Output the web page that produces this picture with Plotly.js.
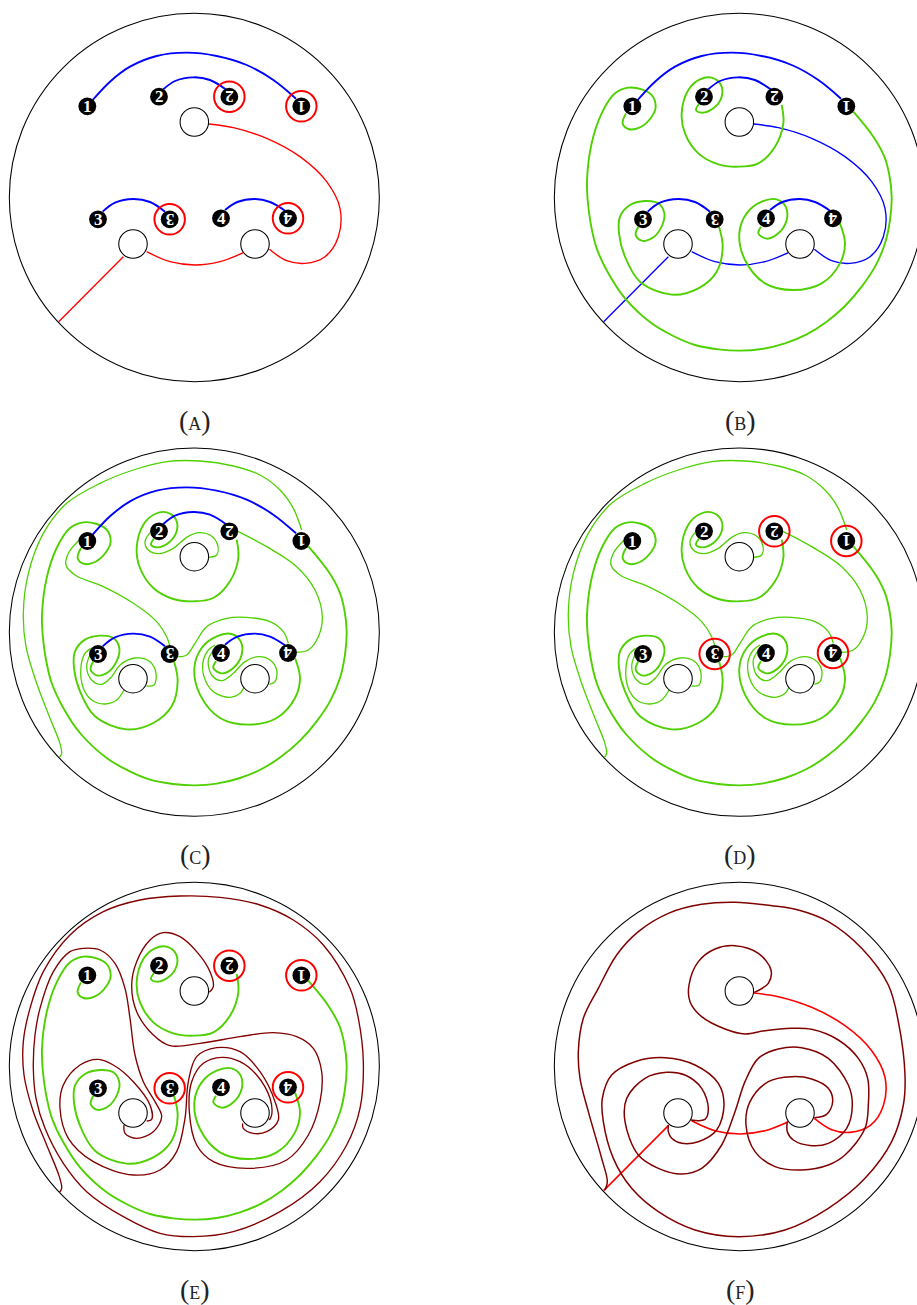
<!DOCTYPE html>
<html><head><meta charset="utf-8">
<script src="https://cdn.plot.ly/plotly-3.0.1.min.js"></script>
<style>html,body{margin:0;padding:0;background:#fff}#p{width:917px;height:1305px}</style></head>
<body><div id="p"></div>
<script>
// Curves, in crop units (1 unit = 1/3 px) relative to each panel's origin.
const blue1=[[278,300],[330,245],[390,200],[470,168],[560,158],[650,168],[740,195],[820,240],[888,296]];
const blue2=[[490,268],[525,243],[580,232],[630,240],[680,270]];
const blue3=[[308,635],[345,608],[400,597],[450,606],[495,635]];
const blue4=[[675,630],[712,606],[765,597],[810,606],[855,632]];
const arcOuter=[[625,372],[700,383],[800,415],[900,470],[980,545],[1020,625],[1015,710],[975,770],[915,790],[860,782],[808,748]];
const arcMiddle=[[440,755],[510,785],[585,795],[660,785],[730,758]];
const arcTail=[[370,770],[176,965]];
const greenMain=[[243,340],[233,370],[250,387],[285,382],[320,350],[332,320],[320,285],[290,268],[250,263],[210,280],[170,340],[140,430],[126,540],[128,600],[137,670],[155,745],[190,820],[240,895],[320,970],[385,1008],[450,1035],[520,1048],[585,1052],[650,1047],[720,1030],[785,1003],[845,965],[900,918],[950,860],[990,800],[1020,730],[1035,660],[1040,590],[1033,525],[1018,470],[985,410],[925,335]];
const green2=[[462,312],[453,330],[470,338],[505,325],[530,290],[528,255],[500,233],[465,238],[430,270],[410,340],[420,400],[460,460],[520,493],[580,500],[640,490],[690,440],[715,370],[710,315]];
const green3=[[280,680],[272,705],[290,722],[325,712],[352,675],[358,640],[340,610],[300,603],[255,615],[225,650],[222,700],[240,770],[285,845],[380,884],[460,865],[515,815],[533,740],[522,680]];
const green4=[[648,680],[640,700],[665,716],[700,700],[725,660],[722,620],[695,598],[650,605],[605,640],[583,700],[600,780],[660,850],[745,870],[830,850],[885,790],[900,730],[885,670]];
const thinOuter=[[905,270],[880,205],[840,150],[780,105],[700,78],[600,63],[500,65],[400,90],[300,130],[200,190],[130,280],[85,400],[70,520],[78,620],[110,730],[150,835],[178,905],[185,940],[178,952]];
const thinOne=[[240,298],[205,340],[198,375],[225,405],[310,440],[400,490],[470,545],[500,590],[510,620]];
const thinTwoR=[[715,275],[800,320],[890,380],[945,450],[967,530],[955,590],[925,630],[885,637]];
const thinHump=[[535,650],[560,645],[585,610],[620,560],[680,535],[740,532],[810,545],[850,575],[865,610]];
const thinHole1=[[625,352],[650,345],[653,315],[630,285],[595,278],[560,292],[520,325],[475,341],[445,330],[435,305],[450,278]];
const thinHole3a=[[440,738],[462,735],[468,700],[450,665],[405,654],[360,675],[335,710],[305,733],[275,720],[260,680],[272,640]];
const thinHole3b=[[372,750],[350,780],[315,792],[275,780],[250,745],[243,680],[255,640],[272,625]];
const thinHole4a=[[808,733],[825,725],[830,690],[810,660],[775,650],[735,665],[700,700],[665,722],[635,705],[625,660],[645,625]];
const thinHole4b=[[735,735],[720,760],[690,772],[640,755],[612,710],[610,660],[625,630],[645,615]];
const darkE1=[[178,952],[185,940],[178,905],[140,810],[100,710],[72,600],[70,500],[90,400],[130,290],[210,180],[310,110],[420,75],[540,63],[660,67],[780,90],[880,135],[970,210],[1050,340],[1075,430],[1090,560],[1080,700],[1040,810],[960,920],[840,1010],[700,1070],[580,1085],[480,1075],[370,1025],[260,950],[190,865],[135,760],[108,670],[100,580],[105,480],[120,400],[160,290],[210,230],[250,220],[300,225],[345,265],[375,340],[390,430],[405,540],[430,620],[465,680],[485,725],[460,770],[410,790],[375,775],[372,750]];
const darkE2=[[440,738],[455,733],[450,690],[400,620],[340,570],[295,553],[240,570],[190,630],[180,700],[205,790],[280,860],[400,900],[480,885],[530,830],[555,730],[565,620],[590,545],[650,518],[720,530],[780,590],[825,680],[835,735],[800,770],[760,775],[730,760],[728,745]];
const darkE3=[[808,735],[815,720],[810,670],[770,600],[720,560],[665,547],[610,565],[575,620],[568,710],[590,810],[640,860],[750,880],[860,855],[925,780],[960,680],[965,590],[940,520],[890,485],[820,473],[720,485],[600,505],[510,512],[460,480],[410,410],[395,330],[410,260],[450,195],[490,173],[540,185],[590,230],[630,290],[640,335],[628,352]];
const darkF1=[[180,945],[187,920],[170,850],[130,710],[105,610],[100,530],[115,430],[160,340],[215,240],[280,170],[370,115],[470,88],[570,82],[680,92],[760,105],[850,140],[950,220],[1030,330],[1060,440],[1080,600],[1075,690],[1040,800],[960,910],[850,1000],[720,1065],[580,1085],[450,1065],[340,1010],[260,940],[205,850],[175,740],[172,670],[200,600],[270,560],[360,548],[450,570],[520,625],[537,690],[515,765],[460,800],[410,805],[380,790],[370,770],[370,750]];
const darkF2=[[438,735],[480,733],[490,700],[470,640],[420,600],[365,592],[300,610],[245,670],[240,740],[280,840],[340,880],[410,897],[470,880],[530,810],[570,710],[600,620],[640,550],[700,522],[770,518],[850,550],[910,630],[922,690],[905,760],[850,805],[800,812],[745,795],[727,770],[727,740]];
const darkF3=[[808,728],[845,718],[863,680],[850,640],[800,612],[740,605],[670,620],[615,680],[603,750],[630,830],[690,875],[770,885],[850,870],[900,840],[960,760],[970,690],[968,610],[940,550],[880,495],[800,463],[740,460],[660,467],[600,477],[540,462],[470,425],[435,380],[432,330],[460,260],[510,222],[570,212],[640,235],[678,285],[670,325],[628,352]];

const discX=[262,477,688,904,294,509,663,864];
const discY=[319,290,290,319,658,658,655,655];
const discLabels=['1','2','2','1','3','3','4','4'];
const discTurned=[false,false,true,true,false,true,false,true];
const holeX=[583,399,765];
const holeY=[366,732,732];
const panelNames=['A','B','C','D','E','F'];
const panelOriginX=[0,545,0,545,0,545];
const panelOriginY=[0,0,440,440,875,875];
const panelShift=[0,0,-16,-16,-18,-18];
const captionY=[1262,1262,1243,1243,1243,1243];
const ringed=[[2,3,5,7],[],[],[2,3,5,7],[2,3,5,7],[]];

const BLUE='#0000ff',RED='#ff0000',GREEN='#4fd000',DARK='#800000';
const traces=[],shapes=[],annotations=[];
const toX=(p,v)=>panelOriginX[p]+v/3;
const toY=(p,v)=>panelOriginY[p]+v/3;
function stroke(pts,frame,p,color,width,linear){
  const dy=panelShift[p]-frame;
  traces.push({type:'scatter',mode:'lines',hoverinfo:'skip',showlegend:false,
    x:pts.map(q=>toX(p,q[0])),y:pts.map(q=>toY(p,q[1]+dy)),
    line:{color:color,width:width,shape:linear?'linear':'spline',smoothing:1}});
}
function blues(p){[blue1,blue2,blue3,blue4].forEach(c=>stroke(c,0,p,BLUE,1.9));}
function thick(p){[greenMain,green2,green3,green4].forEach(c=>stroke(c,0,p,GREEN,1.9));}
function thin(p){[thinOuter,thinOne,thinTwoR,thinHump,thinHole1,thinHole3a,thinHole3b,thinHole4a,thinHole4b].forEach(c=>stroke(c,-16,p,GREEN,1.3));}
function arcs(p,color,w){stroke(arcOuter,0,p,color,w);stroke(arcMiddle,0,p,color,w);stroke(arcTail,0,p,color,w,true);}

arcs(0,RED,1.35);blues(0);
arcs(1,BLUE,1.35);thick(1);blues(1);
thick(2);thin(2);blues(2);
thick(3);thin(3);
thick(4);[darkE1,darkE2,darkE3].forEach(c=>stroke(c,-18,4,DARK,1.35));
arcs(5,RED,1.6);[darkF1,darkF2,darkF3].forEach(c=>stroke(c,-18,5,DARK,1.5));

panelNames.forEach((name,p)=>{
  const s=panelShift[p];
  shapes.push({type:'circle',xref:'x',yref:'y',layer:'below',
    x0:toX(p,28),x1:toX(p,1138),y0:toY(p,40+s),y1:toY(p,1145+s),line:{color:'#000',width:1.05}});
  if(ringed[p].length){
    traces.push({type:'scatter',mode:'markers',hoverinfo:'skip',showlegend:false,cliponaxis:false,
      x:ringed[p].map(i=>toX(p,discX[i])),y:ringed[p].map(i=>toY(p,discY[i]+s)),
      marker:{size:30.5,color:'rgba(255,255,255,0)',line:{color:RED,width:2}}});
  }
  traces.push({type:'scatter',mode:'markers',hoverinfo:'skip',showlegend:false,
    x:holeX.map(v=>toX(p,v)),y:holeY.map(v=>toY(p,v+s)),
    marker:{size:28.5,color:'#fff',line:{color:'#000',width:1.05}}});
  if(p<5){
    traces.push({type:'scatter',mode:'markers',hoverinfo:'skip',showlegend:false,
      x:discX.map(v=>toX(p,v)),y:discY.map(v=>toY(p,v+s)),
      marker:{size:17.8,color:'#000'}});
    discX.forEach((v,i)=>annotations.push({xref:'x',yref:'y',x:toX(p,v),y:toY(p,discY[i]+s),
      text:'<b>'+discLabels[i]+'</b>',showarrow:false,textangle:discTurned[i]?180:0,
      xanchor:'center',yanchor:'middle',borderpad:0,
      font:{family:'Liberation Serif',size:17,color:'#fff'}}));
  }
  annotations.push({xref:'x',yref:'y',x:toX(p,585),y:toY(p,captionY[p]),showarrow:false,
    xanchor:'center',yanchor:'middle',
    text:'<span style="font-size:28px">(</span>'+name+'<span style="font-size:28px">)</span>',
    font:{family:'Liberation Serif',size:18,color:'#222'}});
});

Plotly.newPlot('p',traces,{
  width:917,height:1305,margin:{l:0,r:0,t:0,b:0},paper_bgcolor:'#fff',plot_bgcolor:'#fff',showlegend:false,
  xaxis:{range:[0,917],visible:false,fixedrange:true},
  yaxis:{range:[1305,0],visible:false,fixedrange:true},
  shapes:shapes,annotations:annotations
},{displayModeBar:false,staticPlot:true});
</script></body></html>
